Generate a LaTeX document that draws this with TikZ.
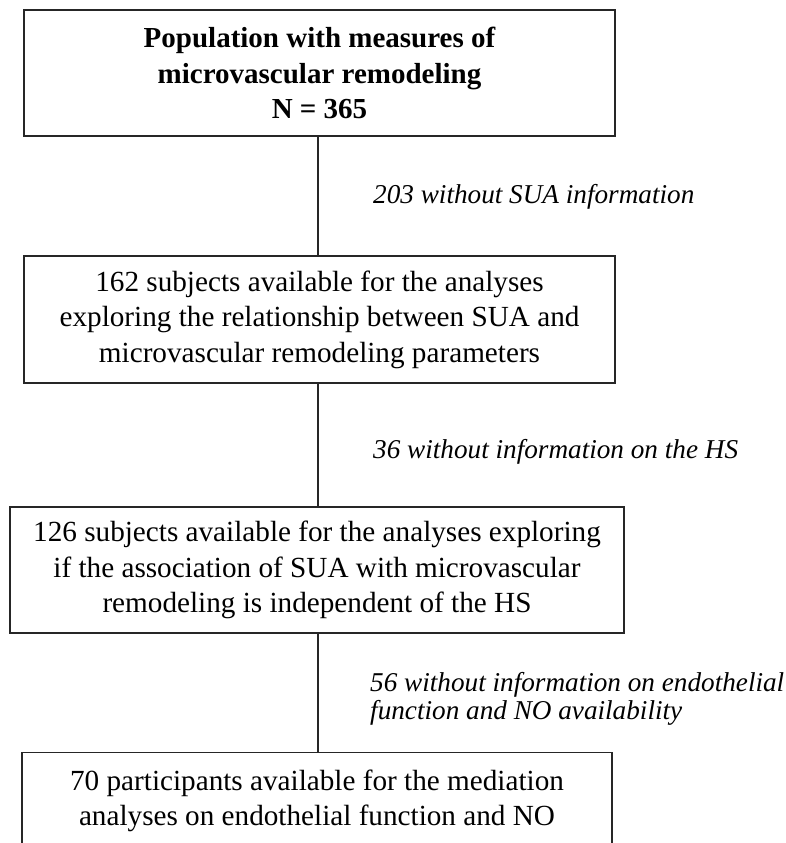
\documentclass[tikz,border=0pt]{standalone}
\usepackage{fontspec}
\setmainfont{Liberation Serif}
\begin{document}
\begin{tikzpicture}[x=1pt,y=-1pt]
\tikzset{
  box/.style={draw=black!85,line width=1.1pt,align=center,inner sep=0pt,
    font=\fontsize{29.2}{35.5}\selectfont},
  lab/.style={anchor=west,align=left,inner sep=0pt,
    font=\fontsize{27.2}{28}\selectfont\itshape},
  conn/.style={draw=black!85,line width=1.1pt}
}
\useasboundingbox (0,0) rectangle (786,843);
\node[box,font=\fontsize{29}{35.5}\selectfont\bfseries,minimum width=591pt,minimum height=126pt] (b1) at (319.5,73)
  {Population with measures of\\ microvascular remodeling\\ N = 365};
\node[box,minimum width=591pt,minimum height=127pt] (b2) at (319.5,319.5)
  {162 subjects available for the analyses\\ exploring the relationship between SUA and\\ microvascular remodeling parameters};
\node[box,minimum width=614pt,minimum height=126pt] (b3) at (317,570)
  {126 subjects available for the analyses exploring\\ if the association of SUA with microvascular\\ remodeling is independent of the HS};
\node[box,minimum width=590pt,minimum height=126pt,anchor=north] (b4) at (317,752)
  {70 participants available for the mediation\\ analyses on endothelial function and NO\\ \mbox{}};
\draw[conn] (b1.south -| 318,0) -- (b2.north -| 318,0);
\draw[conn] (b2.south -| 318,0) -- (b3.north -| 318,0);
\draw[conn] (b3.south -| 318,0) -- (b4.north -| 318,0);
\node[lab] (l1) at (373,197) {203 without SUA information};
\node[lab] (l2) at (373,452) {36 without information on the HS};
\node[lab] (l3) at (370,699) {56 without information on endothelial\\ function and NO availability};
\end{tikzpicture}
\end{document}
